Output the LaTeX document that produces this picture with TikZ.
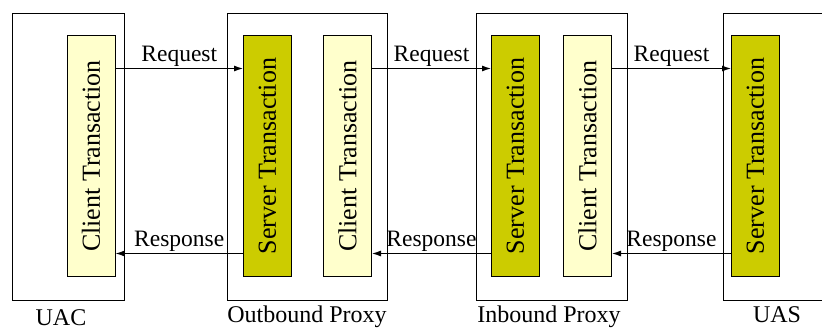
\documentclass[tikz,border=0pt]{standalone}
\usepackage{fontspec}
\setmainfont{Liberation Serif}
\usepackage{tikz}
\usetikzlibrary{arrows.meta}
\tikzstyle{pixels} = [x = 1pt, y = -1pt]
\definecolor{serverColor}{RGB}{204,204,0}
\definecolor{clientColor}{RGB}{255,255,204}
\tikzstyle{frameStyle} = [draw=black, line width=1pt, inner sep=0pt, anchor=north west]
\tikzstyle{transStyle} = [draw=black, line width=1pt, inner sep=0pt, minimum width=48pt, minimum height=240pt]
\tikzstyle{serverStyle} = [transStyle, fill=serverColor]
\tikzstyle{clientStyle} = [transStyle, fill=clientColor]
\tikzstyle{transText} = [font=\fontsize{26}{30}\selectfont, rotate=90, inner sep=0pt]
\tikzstyle{msgArrow} = [line width=1pt, -{Latex[length=9pt,width=6pt]}]
\tikzstyle{msgText} = [font=\fontsize{23.5}{27}\selectfont, midway, above, inner sep=1.2pt]
\tikzstyle{frameText} = [font=\fontsize{24}{28}\selectfont, anchor=base, inner sep=0pt]
\newcommand{\frameBox}[5]{\node [frameStyle, minimum width=#4pt, minimum height=#5pt] (#1) at (#2,#3) {};}
\newcommand{\serverTransaction}[2]{\node [serverStyle, label={[transText]center:Server Transaction}] (#1) at (#2,156) {};}
\newcommand{\clientTransaction}[2]{\node [clientStyle, label={[transText]center:Client Transaction}] (#1) at (#2,156) {};}
\newcommand{\request}[2]{\draw [msgArrow] ([yshift=-33pt]#1.north east) -- ([yshift=-33pt]#2.north west) node [msgText] {Request};}
\newcommand{\response}[2]{\draw [msgArrow] ([yshift=23pt]#1.south west) -- ([yshift=23pt]#2.south east) node [msgText] {Response};}
\begin{document}
\begin{tikzpicture}[pixels]
  \clip (0,0) rectangle (822,329);
  % the four elements
  \frameBox{uac}{12}{13}{112}{287}
  \frameBox{outbound}{227}{13}{160}{287}
  \frameBox{inbound}{476}{13}{151}{287}
  \frameBox{uas}{723}{13}{140}{287}
  \node [frameText] (uacLabel) at (61,325) {UAC};
  \node [frameText] (outboundLabel) at (307,322) {Outbound Proxy};
  \node [frameText] (inboundLabel) at (549,322) {Inbound Proxy};
  \node [frameText] (uasLabel) at (777,322) {UAS};

  % transactions
  \clientTransaction{uacClient}{91}
  \serverTransaction{outServer}{267.5}
  \clientTransaction{outClient}{347.5}
  \serverTransaction{inServer}{515.5}
  \clientTransaction{inClient}{587.5}
  \serverTransaction{uasServer}{755.5}

  % messages
  \request{uacClient}{outServer}
  \request{outClient}{inServer}
  \request{inClient}{uasServer}
  \response{outServer}{uacClient}
  \response{inServer}{outClient}
  \response{uasServer}{inClient}
\end{tikzpicture}
\end{document}
